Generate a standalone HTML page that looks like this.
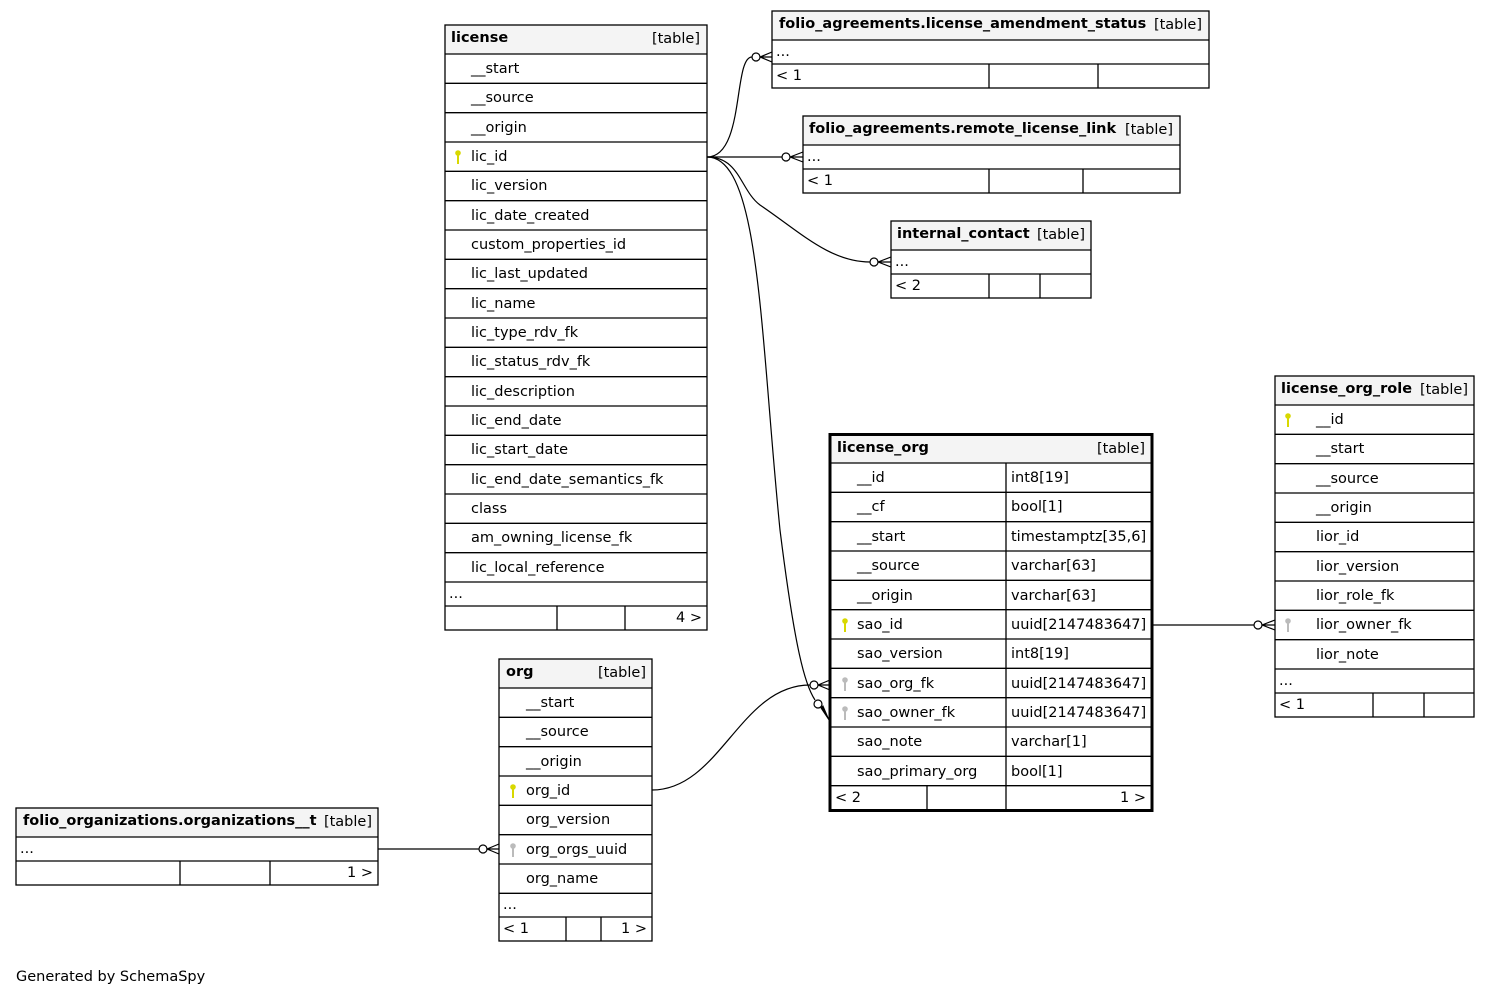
<!DOCTYPE html>
<html><head><meta charset="utf-8"><style>
html,body{margin:0;padding:0;background:#fff;}
svg{display:block;}
text{font-family:"DejaVu Sans","Liberation Sans",sans-serif;font-size:14.5px;fill:#000;}
.b{font-weight:bold;}
.h{fill:#f4f4f4;}
.ln{stroke:#000;stroke-width:1.3;fill:none;}
.c{stroke:#000;stroke-width:1.2;fill:none;}
.o{stroke:#000;stroke-width:1.2;fill:#fff;}
</style></head><body>
<svg width="1491" height="996" viewBox="0 0 1491 996" xmlns="http://www.w3.org/2000/svg">
<defs>
<g id="ky"><circle cx="0" cy="-3" r="2.8" fill="#d8d800"/><rect x="-1" y="-1" width="2" height="9" fill="#d8d800"/></g>
<g id="kg"><circle cx="0" cy="-3" r="2.8" fill="#bbb"/><rect x="-1" y="-1" width="2" height="9" fill="#bbb"/></g>
</defs>

<!-- license -->
<rect x="445" y="25" width="262" height="29" class="h"/>
<rect x="445" y="25" width="262" height="605" class="ln"/>
<g class="ln">
<line x1="445" y1="54" x2="707" y2="54"/><line x1="445" y1="83.3" x2="707" y2="83.3"/><line x1="445" y1="112.7" x2="707" y2="112.7"/><line x1="445" y1="142" x2="707" y2="142"/><line x1="445" y1="171.3" x2="707" y2="171.3"/><line x1="445" y1="200.7" x2="707" y2="200.7"/><line x1="445" y1="230" x2="707" y2="230"/><line x1="445" y1="259.3" x2="707" y2="259.3"/><line x1="445" y1="288.7" x2="707" y2="288.7"/><line x1="445" y1="318" x2="707" y2="318"/><line x1="445" y1="347.3" x2="707" y2="347.3"/><line x1="445" y1="376.7" x2="707" y2="376.7"/><line x1="445" y1="406" x2="707" y2="406"/><line x1="445" y1="435.3" x2="707" y2="435.3"/><line x1="445" y1="464.7" x2="707" y2="464.7"/><line x1="445" y1="494" x2="707" y2="494"/><line x1="445" y1="523.3" x2="707" y2="523.3"/><line x1="445" y1="552.7" x2="707" y2="552.7"/><line x1="445" y1="582" x2="707" y2="582"/><line x1="445" y1="606" x2="707" y2="606"/>
<line x1="557" y1="606" x2="557" y2="630"/><line x1="625" y1="606" x2="625" y2="630"/>
</g>
<text x="451" y="42" class="b">license</text><text x="700" y="43" text-anchor="end">[table]</text>
<text x="471" y="73">__start</text><text x="471" y="102">__source</text><text x="471" y="132">__origin</text>
<use href="#ky" x="458" y="156"/><text x="471" y="161">lic_id</text>
<text x="471" y="190">lic_version</text><text x="471" y="220">lic_date_created</text><text x="471" y="249">custom_properties_id</text><text x="471" y="278">lic_last_updated</text><text x="471" y="308">lic_name</text><text x="471" y="337">lic_type_rdv_fk</text><text x="471" y="366">lic_status_rdv_fk</text><text x="471" y="396">lic_description</text><text x="471" y="425">lic_end_date</text><text x="471" y="454">lic_start_date</text><text x="471" y="484">lic_end_date_semantics_fk</text><text x="471" y="513">class</text><text x="471" y="542">am_owning_license_fk</text><text x="471" y="572">lic_local_reference</text>
<text x="449" y="598">...</text><text x="702" y="622" text-anchor="end">4 &gt;</text>

<!-- license_amendment_status -->
<rect x="772" y="11" width="437" height="29" class="h"/>
<rect x="772" y="11" width="437" height="77" class="ln"/>
<g class="ln"><line x1="772" y1="40" x2="1209" y2="40"/><line x1="772" y1="64" x2="1209" y2="64"/><line x1="989" y1="64" x2="989" y2="88"/><line x1="1098" y1="64" x2="1098" y2="88"/></g>
<text x="779" y="28" class="b">folio_agreements.license_amendment_status</text><text x="1202" y="29" text-anchor="end">[table]</text>
<text x="776" y="56">...</text><text x="776" y="80">&lt; 1</text>

<!-- remote_license_link -->
<rect x="803" y="116" width="377" height="29" class="h"/>
<rect x="803" y="116" width="377" height="77" class="ln"/>
<g class="ln"><line x1="803" y1="145" x2="1180" y2="145"/><line x1="803" y1="169" x2="1180" y2="169"/><line x1="989" y1="169" x2="989" y2="193"/><line x1="1083" y1="169" x2="1083" y2="193"/></g>
<text x="809" y="133" class="b">folio_agreements.remote_license_link</text><text x="1173" y="134" text-anchor="end">[table]</text>
<text x="807" y="161">...</text><text x="807" y="185">&lt; 1</text>

<!-- internal_contact -->
<rect x="891" y="221" width="200" height="29" class="h"/>
<rect x="891" y="221" width="200" height="77" class="ln"/>
<g class="ln"><line x1="891" y1="250" x2="1091" y2="250"/><line x1="891" y1="274" x2="1091" y2="274"/><line x1="989" y1="274" x2="989" y2="298"/><line x1="1040" y1="274" x2="1040" y2="298"/></g>
<text x="897" y="238" class="b">internal_contact</text><text x="1085" y="239" text-anchor="end">[table]</text>
<text x="895" y="266">...</text><text x="895" y="290">&lt; 2</text>

<!-- license_org -->
<rect x="830" y="435" width="322" height="28" class="h"/>
<g class="ln">
<line x1="830" y1="463" x2="1152" y2="463"/><line x1="830" y1="492.3" x2="1152" y2="492.3"/><line x1="830" y1="521.7" x2="1152" y2="521.7"/><line x1="830" y1="551" x2="1152" y2="551"/><line x1="830" y1="580.3" x2="1152" y2="580.3"/><line x1="830" y1="609.7" x2="1152" y2="609.7"/><line x1="830" y1="639" x2="1152" y2="639"/><line x1="830" y1="668.3" x2="1152" y2="668.3"/><line x1="830" y1="697.7" x2="1152" y2="697.7"/><line x1="830" y1="727" x2="1152" y2="727"/><line x1="830" y1="756.3" x2="1152" y2="756.3"/><line x1="830" y1="785.7" x2="1152" y2="785.7"/>
<line x1="1006" y1="463" x2="1006" y2="810"/><line x1="927" y1="785.7" x2="927" y2="810"/>
</g>
<rect x="830" y="434.5" width="322" height="376" fill="none" stroke="#000" stroke-width="3"/>
<text x="837" y="452" class="b">license_org</text><text x="1145" y="453" text-anchor="end">[table]</text>
<text x="857" y="482">__id</text><text x="1011" y="482">int8[19]</text>
<text x="857" y="511">__cf</text><text x="1011" y="511">bool[1]</text>
<text x="857" y="541">__start</text><text x="1011" y="541">timestamptz[35,6]</text>
<text x="857" y="570">__source</text><text x="1011" y="570">varchar[63]</text>
<text x="857" y="600">__origin</text><text x="1011" y="600">varchar[63]</text>
<use href="#ky" x="845" y="624"/><text x="857" y="629">sao_id</text><text x="1011" y="629">uuid[2147483647]</text>
<text x="857" y="658">sao_version</text><text x="1011" y="658">int8[19]</text>
<use href="#kg" x="845" y="683"/><text x="857" y="688">sao_org_fk</text><text x="1011" y="688">uuid[2147483647]</text>
<use href="#kg" x="845" y="712"/><text x="857" y="717">sao_owner_fk</text><text x="1011" y="717">uuid[2147483647]</text>
<text x="857" y="746">sao_note</text><text x="1011" y="746">varchar[1]</text>
<text x="857" y="776">sao_primary_org</text><text x="1011" y="776">bool[1]</text>
<text x="835" y="802">&lt; 2</text><text x="1146" y="802" text-anchor="end">1 &gt;</text>

<!-- license_org_role -->
<rect x="1275" y="376" width="199" height="29" class="h"/>
<rect x="1275" y="376" width="199" height="341" class="ln"/>
<g class="ln">
<line x1="1275" y1="405" x2="1474" y2="405"/><line x1="1275" y1="434.3" x2="1474" y2="434.3"/><line x1="1275" y1="463.7" x2="1474" y2="463.7"/><line x1="1275" y1="493" x2="1474" y2="493"/><line x1="1275" y1="522.3" x2="1474" y2="522.3"/><line x1="1275" y1="551.7" x2="1474" y2="551.7"/><line x1="1275" y1="581" x2="1474" y2="581"/><line x1="1275" y1="610.3" x2="1474" y2="610.3"/><line x1="1275" y1="639.7" x2="1474" y2="639.7"/><line x1="1275" y1="669" x2="1474" y2="669"/><line x1="1275" y1="693" x2="1474" y2="693"/>
<line x1="1373" y1="693" x2="1373" y2="717"/><line x1="1424" y1="693" x2="1424" y2="717"/>
</g>
<text x="1281" y="393" class="b">license_org_role</text><text x="1468" y="394" text-anchor="end">[table]</text>
<use href="#ky" x="1288" y="419"/><text x="1316" y="424">__id</text>
<text x="1316" y="453">__start</text><text x="1316" y="483">__source</text><text x="1316" y="512">__origin</text><text x="1316" y="541">lior_id</text><text x="1316" y="571">lior_version</text><text x="1316" y="600">lior_role_fk</text>
<use href="#kg" x="1288" y="624"/><text x="1316" y="629">lior_owner_fk</text>
<text x="1316" y="659">lior_note</text>
<text x="1279" y="685">...</text><text x="1279" y="709">&lt; 1</text>

<!-- org -->
<rect x="499" y="659" width="153" height="29" class="h"/>
<rect x="499" y="659" width="153" height="282" class="ln"/>
<g class="ln">
<line x1="499" y1="688" x2="652" y2="688"/><line x1="499" y1="717.3" x2="652" y2="717.3"/><line x1="499" y1="746.7" x2="652" y2="746.7"/><line x1="499" y1="776" x2="652" y2="776"/><line x1="499" y1="805.3" x2="652" y2="805.3"/><line x1="499" y1="834.7" x2="652" y2="834.7"/><line x1="499" y1="864" x2="652" y2="864"/><line x1="499" y1="893.3" x2="652" y2="893.3"/><line x1="499" y1="917" x2="652" y2="917"/>
<line x1="566" y1="917" x2="566" y2="941"/><line x1="601" y1="917" x2="601" y2="941"/>
</g>
<text x="506" y="676" class="b">org</text><text x="646" y="677" text-anchor="end">[table]</text>
<text x="526" y="707">__start</text><text x="526" y="736">__source</text><text x="526" y="766">__origin</text>
<use href="#ky" x="513" y="790"/><text x="526" y="795">org_id</text>
<text x="526" y="824">org_version</text>
<use href="#kg" x="513" y="849"/><text x="526" y="854">org_orgs_uuid</text>
<text x="526" y="883">org_name</text>
<text x="503" y="909">...</text><text x="503" y="933">&lt; 1</text><text x="647" y="933" text-anchor="end">1 &gt;</text>

<!-- organizations_t -->
<rect x="16" y="808" width="362" height="29" class="h"/>
<rect x="16" y="808" width="362" height="77" class="ln"/>
<g class="ln"><line x1="16" y1="837" x2="378" y2="837"/><line x1="16" y1="861" x2="378" y2="861"/><line x1="180" y1="861" x2="180" y2="885"/><line x1="270" y1="861" x2="270" y2="885"/></g>
<text x="23" y="825" class="b">folio_organizations.organizations__t</text><text x="372" y="826" text-anchor="end">[table]</text>
<text x="20" y="853">...</text><text x="373" y="877" text-anchor="end">1 &gt;</text>

<!-- connectors -->
<path class="c" d="M707,157 C745,157 733,57 752,57"/>
<circle class="o" cx="756" cy="57" r="4"/>
<path class="c" d="M760,57 L772,52 M760,57 L772,57 M760,57 L772,62"/>

<path class="c" d="M707,157 L782,157"/>
<circle class="o" cx="786" cy="157" r="4"/>
<path class="c" d="M790,157 L803,152 M790,157 L803,157 M790,157 L803,162"/>

<path class="c" d="M707,157 C740,157 740,190 760,205 C800,232 830,262 870,262"/>
<circle class="o" cx="874" cy="262" r="4"/>
<path class="c" d="M878,262 L891,257 M878,262 L891,262 M878,262 L891,267"/>

<path class="c" d="M707,157 C760,157 760,330 780,530 C795,650 805,685 815,700"/>
<circle class="o" cx="818" cy="704" r="4"/>
<path d="M821,708 L829,720 L823,706 Z" fill="#000" stroke="#000"/>

<path class="c" d="M652,790 C720,790 740,685 810,685"/>
<circle class="o" cx="814" cy="685" r="4"/>
<path class="c" d="M818,685 L830,680 M818,685 L830,685 M818,685 L830,690"/>

<path class="c" d="M1152,625 L1254,625"/>
<circle class="o" cx="1258" cy="625" r="4"/>
<path class="c" d="M1262,625 L1275,620 M1262,625 L1275,625 M1262,625 L1275,630"/>

<path class="c" d="M378,849 L479,849"/>
<circle class="o" cx="483" cy="849" r="4"/>
<path class="c" d="M487,849 L499,844 M487,849 L499,849 M487,849 L499,854"/>

<text x="16" y="981">Generated by SchemaSpy</text>
</svg>
</body></html>
